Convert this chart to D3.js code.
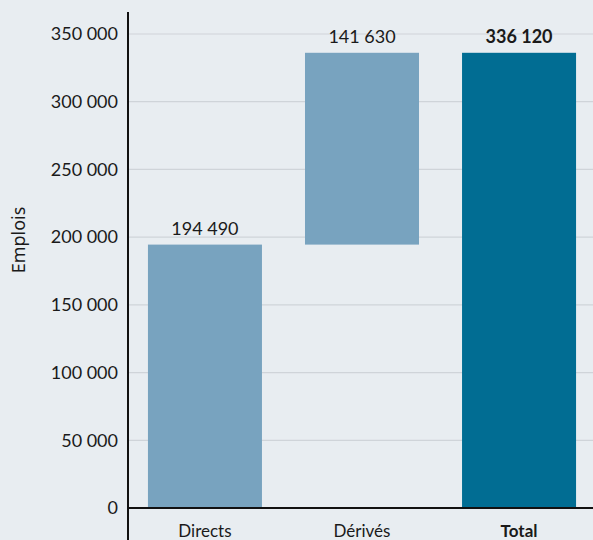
<!DOCTYPE html>
<html><head><meta charset="utf-8">
<script src="https://cdn.jsdelivr.net/npm/d3@7"></script>
<style>
html,body{margin:0;padding:0;background:#e8edf1;}
svg{display:block;font-family:Lato,"Noto Sans",sans-serif;}
</style></head><body>
<svg id="c" width="593" height="540"></svg>
<script>
const categories = ["Directs", "Dérivés", "Total"];
const starts = [0, 194490, 0];
const ends = [194490, 336120, 336120];
const labels = ["194 490", "141 630", "336 120"];
const yTicks = [0, 50000, 100000, 150000, 200000, 250000, 300000, 350000];
const tickLabels = ["0", "50 000", "100 000", "150 000", "200 000", "250 000", "300 000", "350 000"];
const colors = ["#78a3bf", "#78a3bf", "#016d93"];

const W = 593, H = 540;
const svg = d3.select("#c");
svg.append("rect").attr("width", W).attr("height", H).attr("fill", "#e8edf1");

const x0 = 128;
const y = d3.scaleLinear().domain([0, 350000]).range([508, 34]);
const x = d3.scaleBand().domain(categories).range([x0, 596]).paddingInner(0.274).paddingOuter(0.127);

// gridlines
svg.append("g").selectAll("line").data(yTicks.slice(1)).join("line")
  .attr("x1", x0).attr("x2", W).attr("y1", d => y(d)).attr("y2", d => y(d))
  .attr("stroke", "#cfd4d9").attr("stroke-width", 1.2);

// y axis
const yAxis = d3.axisLeft(y).tickValues(yTicks).tickFormat((d, i) => tickLabels[i]).tickSize(0).tickPadding(10);
const ga = svg.append("g").attr("transform", `translate(${x0},0)`).call(yAxis);
ga.select(".domain").remove();
ga.selectAll("text").attr("font-size", 18).attr("fill", "#1a1a1a").attr("font-family", "Lato, 'Noto Sans', sans-serif");

// bars
svg.append("g").selectAll("rect").data(categories).join("rect")
  .attr("x", d => x(d)).attr("width", x.bandwidth())
  .attr("y", (d, i) => y(ends[i])).attr("height", (d, i) => y(starts[i]) - y(ends[i]))
  .attr("fill", (d, i) => colors[i]);

// value labels
svg.append("g").selectAll("text").data(categories).join("text")
  .attr("x", d => x(d) + x.bandwidth() / 2).attr("y", (d, i) => y(ends[i]) - 10)
  .attr("text-anchor", "middle").attr("font-size", 18)
  .attr("font-weight", (d, i) => i === 2 ? "bold" : "normal")
  .attr("fill", "#1a1a1a").text((d, i) => labels[i]);

// axis lines
svg.append("line").attr("x1", x0).attr("x2", x0).attr("y1", 12).attr("y2", H)
  .attr("stroke", "#111").attr("stroke-width", 2);
svg.append("line").attr("x1", x0).attr("x2", W).attr("y1", y(0)).attr("y2", y(0))
  .attr("stroke", "#111").attr("stroke-width", 2);

// x labels
const xAxis = d3.axisBottom(x).tickSize(0).tickPadding(0);
const gx = svg.append("g").attr("transform", `translate(0,${y(0)})`).call(xAxis);
gx.select(".domain").remove();
gx.selectAll("text").attr("dy", null).attr("y", 29).attr("font-size", 17).attr("fill", "#1a1a1a")
  .attr("font-family", "Lato, 'Noto Sans', sans-serif")
  .attr("font-weight", d => d === "Total" ? "bold" : "normal");

// y title
svg.append("text").attr("transform", "translate(25,240) rotate(-90)")
  .attr("text-anchor", "middle").attr("font-size", 18).attr("font-family", "'Noto Sans', sans-serif")
  .attr("fill", "#1a1a1a").text("Emplois");
</script>
</body></html>
